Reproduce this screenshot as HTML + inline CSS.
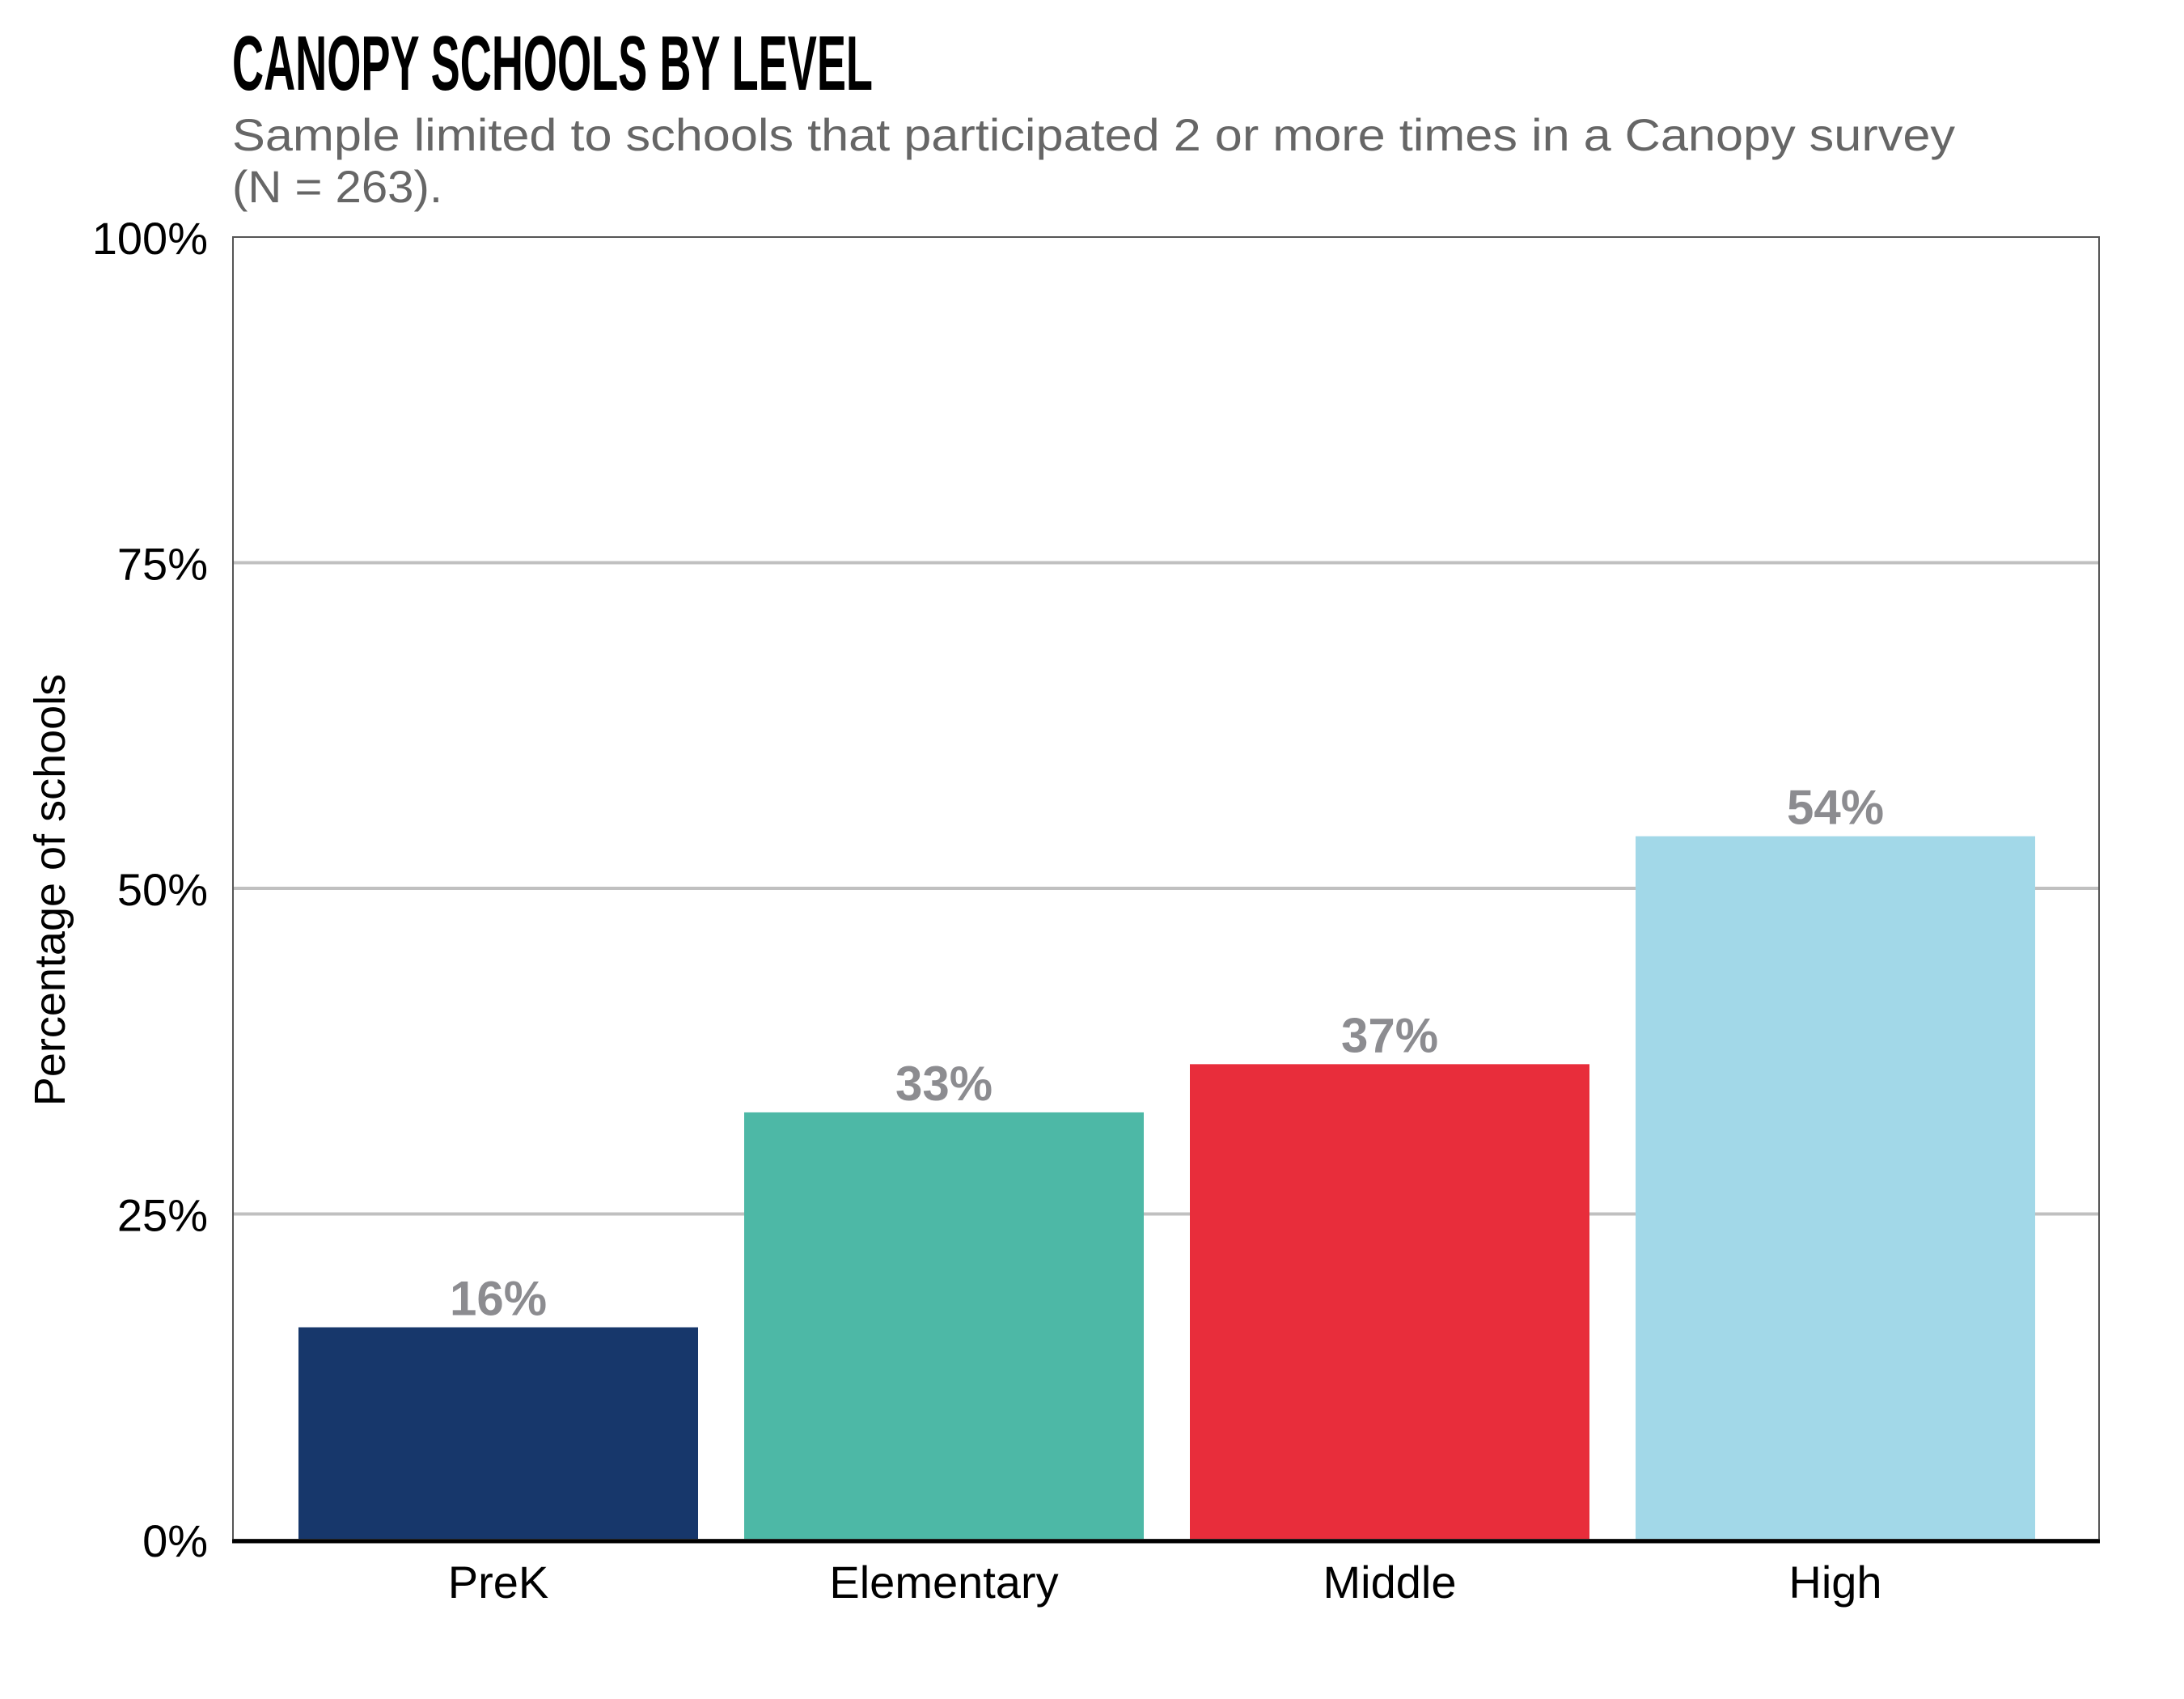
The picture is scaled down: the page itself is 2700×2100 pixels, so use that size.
<!DOCTYPE html>
<html><head><meta charset="utf-8"><style>
html,body{margin:0;padding:0;background:#fff;}
svg{display:block;}
</style></head><body>
<svg id="chart" width="2700" height="2100" viewBox="0 0 2700 2100" xmlns="http://www.w3.org/2000/svg">
<text x="287" y="111" font-family="Liberation Sans, sans-serif" font-weight="bold" font-size="96" textLength="792" lengthAdjust="spacingAndGlyphs" fill="#000">CANOPY SCHOOLS BY LEVEL</text>
<text x="287" y="186" font-family="Liberation Sans, sans-serif" font-size="56" fill="#666" textLength="2130" lengthAdjust="spacingAndGlyphs">Sample limited to schools that participated 2 or more times in a Canopy survey</text>
<text x="287" y="250" font-family="Liberation Sans, sans-serif" font-size="56" fill="#666" textLength="260" lengthAdjust="spacingAndGlyphs">(N = 263).</text>
<g id="grid"></g>
<g id="bars"></g>
<g id="labels"></g>
<rect x="288" y="293" width="2307" height="1610" fill="none" stroke="#555" stroke-width="2"/>
<line x1="287" x2="2596" y1="1905" y2="1905" stroke="#000" stroke-width="5"/>
<text transform="translate(80,1100) rotate(-90)" text-anchor="middle" font-family="Liberation Sans, sans-serif" font-size="54" fill="#000">Percentage of schools</text>
</svg>
<script>
const categories = ["PreK", "Elementary", "Middle", "High"];
const values = [16.3, 32.8, 36.5, 54.0];
const valueLabels = ["16%", "33%", "37%", "54%"];
const yTicks = [0, 25, 50, 75, 100];
const yTickLabels = ["0%", "25%", "50%", "75%", "100%"];
const colors = ["#17376b", "#4db8a6", "#e82d3b", "#a2d8e8"];

const NS = "http://www.w3.org/2000/svg";
const plotLeft = 288, plotRight = 2595, yTop = 293, yBase = 1903;
const firstCenter = 616, step = 551, barW = 494;
function y(v){ return yBase - (v/100)*(yBase - yTop); }
function xc(i){ return firstCenter + i*step; }
function mk(tag, attrs, parent){
  const el = document.createElementNS(NS, tag);
  for (const k in attrs) el.setAttribute(k, attrs[k]);
  parent.appendChild(el);
  return el;
}
const grid = document.getElementById('grid');
const bars = document.getElementById('bars');
const labels = document.getElementById('labels');

yTicks.forEach((t, i) => {
  if (t > 0 && t < 100) {
    const g = mk('line', {x1: plotLeft, x2: plotRight, y1: y(t), y2: y(t), stroke: '#c0c0c0', 'stroke-width': 4}, grid);
    
    
  }
  const tl = mk('text', {x: 257, y: y(t) + 21, 'text-anchor': 'end', 'font-family': 'Liberation Sans, sans-serif', 'font-size': 56, fill: '#000'}, labels);
  tl.textContent = yTickLabels[i];
  
  
});

categories.forEach((c, i) => {
  const r = mk('rect', {x: xc(i) - barW/2, y: y(values[i]), width: barW, height: yBase - y(values[i]), fill: colors[i]}, bars);
  
  
  const vl = mk('text', {x: xc(i), y: y(values[i]) - 15, 'text-anchor': 'middle', 'font-family': 'Liberation Sans, sans-serif', 'font-weight': 'bold', 'font-size': 60, fill: '#8c8c90'}, labels);
  vl.textContent = valueLabels[i];
  
  
  const xl = mk('text', {x: xc(i), y: 1975, 'text-anchor': 'middle', 'font-family': 'Liberation Sans, sans-serif', 'font-size': 56, fill: '#000'}, labels);
  xl.textContent = c;
  
  
});
</script>
</body></html>
